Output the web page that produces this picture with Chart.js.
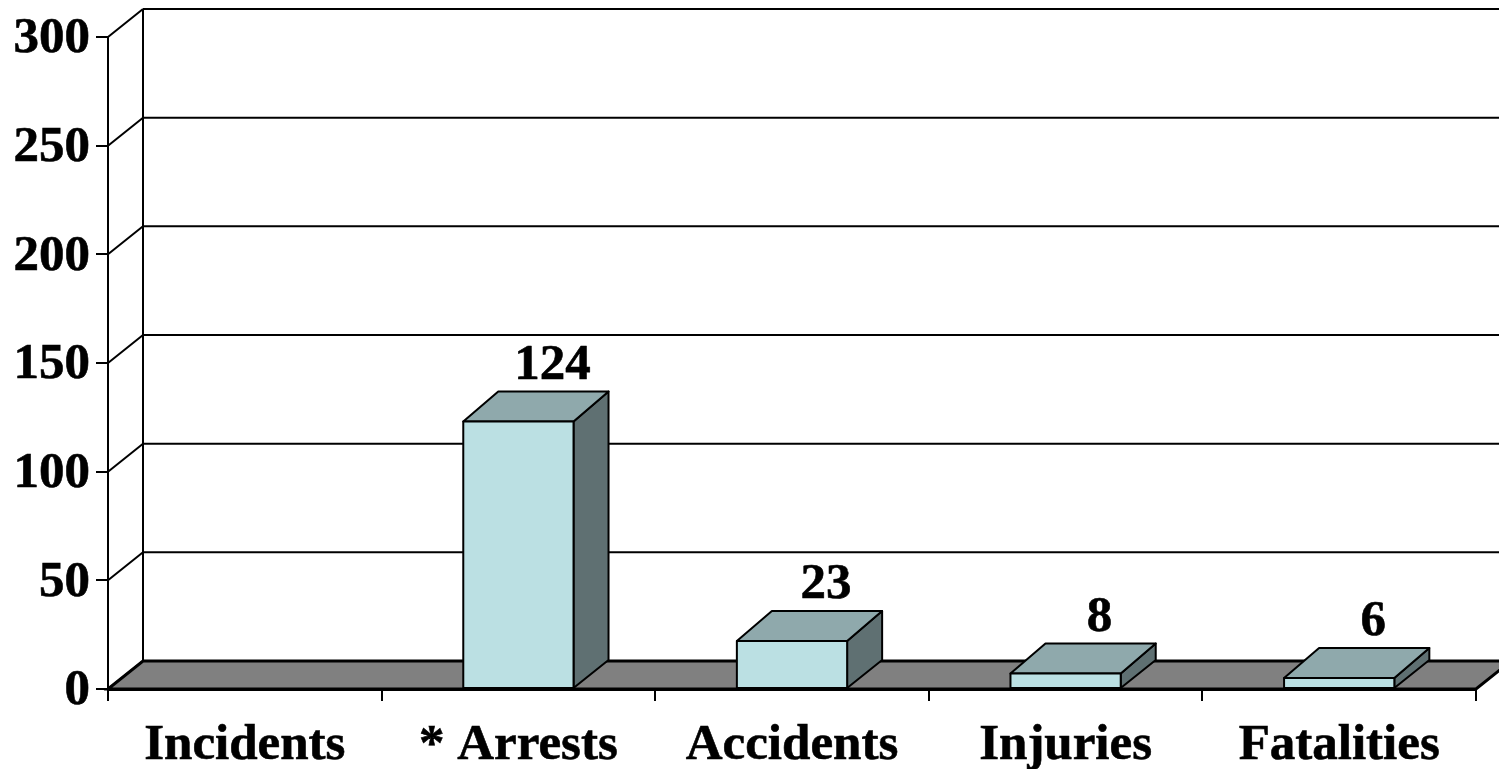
<!DOCTYPE html>
<html>
<head>
<meta charset="utf-8">
<title>Incidents</title>
<script src="https://cdn.jsdelivr.net/npm/chart.js@4.4.1/dist/chart.umd.min.js"></script>
<style>
  html, body { margin: 0; padding: 0; background: #fff; overflow: hidden; }
  canvas { display: block; }
</style>
</head>
<body>
<canvas id="chart" width="1499" height="769"></canvas>
<script>
  const categories = ["Incidents", "* Arrests", "Accidents", "Injuries", "Fatalities"];
  const values = [null, 124, 23, 8, 6];
  const yTicks = [0, 50, 100, 150, 200, 250, 300];

  const FONT = '"Liberation Serif", "Times New Roman", serif';
  const FRONT = "#BBE0E3";
  const TOP = "#8FA9AC";
  const SIDE = "#5F7072";
  const FLOOR = "#808080";
  const DX = 35;   // profundidad 3D en x
  const DY = 28;   // profundidad 3D en y
  const FRONT_DROP = 2; // el frente queda un poco por debajo del valor

  function poly(ctx, pts, fill) {
    ctx.beginPath();
    pts.forEach(function (p, i) {
      if (i === 0) ctx.moveTo(p[0], p[1]);
      else ctx.lineTo(p[0], p[1]);
    });
    ctx.closePath();
    if (fill) { ctx.fillStyle = fill; ctx.fill(); }
    ctx.stroke();
  }

  function line(ctx, x1, y1, x2, y2) {
    ctx.beginPath();
    ctx.moveTo(x1, y1);
    ctx.lineTo(x2, y2);
    ctx.stroke();
  }

  function boldText(ctx, text, x, y) {
    ctx.fillStyle = "#000";
    ctx.strokeStyle = "#000";
    ctx.lineWidth = 0.6;
    ctx.font = "bold 51px " + FONT;
    ctx.fillText(text, x, y);
    ctx.strokeText(text, x, y);
  }

  // Paredes, rejilla, suelo y etiquetas del eje y
  const wallsPlugin = {
    id: "walls",
    beforeDatasetsDraw: function (chart) {
      const ctx = chart.ctx;
      const a = chart.chartArea;
      const yScale = chart.scales.y;
      const y0 = yScale.getPixelForValue(0);
      const yMax = yScale.getPixelForValue(yTicks[yTicks.length - 1]);
      ctx.save();
      ctx.strokeStyle = "#000";
      ctx.lineWidth = 2;
      ctx.lineJoin = "miter";
      yTicks.forEach(function (t) {
        const y = yScale.getPixelForValue(t);
        line(ctx, a.left, y, a.left + DX, y - DY);
        line(ctx, a.left + DX, y - DY, chart.width + 20, y - DY);
      });
      line(ctx, a.left, yMax, a.left, y0);
      line(ctx, a.left + DX, yMax - DY, a.left + DX, y0 - DY);
      ctx.lineWidth = 3;
      poly(ctx, [
        [a.left, y0],
        [a.left + DX, y0 - DY],
        [a.right + DX, y0 - DY],
        [a.right, y0]
      ], FLOOR);

      ctx.textAlign = "right";
      ctx.textBaseline = "middle";
      yTicks.forEach(function (t) {
        boldText(ctx, String(t), 90, yScale.getPixelForValue(t) + 2);
      });
      ctx.restore();
    }
  };

  // Barras 3D: la geometría sale del elemento de cada barra
  const bars3dPlugin = {
    id: "bars3d",
    beforeDatasetDraw: function (chart, args) {
      const ctx = chart.ctx;
      const meta = args.meta;
      ctx.save();
      ctx.lineJoin = "round";
      meta.data.forEach(function (bar, i) {
        if (values[i] === null) return;
        const l = bar.x - bar.width / 2;
        const r = bar.x + bar.width / 2;
        const b = bar.base;
        const t = bar.y + FRONT_DROP;
        const back = bar.y - DY;
        ctx.strokeStyle = "#000";
        ctx.lineWidth = 2;
        poly(ctx, [[r, b], [r + DX, b - DY], [r + DX, back], [r, t]], SIDE);
        poly(ctx, [[l, t], [l + DX, back], [r + DX, back], [r, t]], TOP);
        poly(ctx, [[l, b], [l, t], [r, t], [r, b]], FRONT);

        ctx.textAlign = "center";
        ctx.textBaseline = "alphabetic";
        boldText(ctx, String(values[i]), bar.x + DX - 1, back - 13);
      });
      ctx.restore();
      return false; // ya dibujada arriba
    }
  };

  new Chart(document.getElementById("chart"), {
    type: "bar",
    data: {
      labels: categories,
      datasets: [{
        data: values,
        backgroundColor: FRONT,
        borderColor: "#000",
        borderWidth: 2,
        categoryPercentage: 1,
        barPercentage: 0.403
      }]
    },
    options: {
      responsive: false,
      animation: false,
      layout: { padding: { top: 37, right: 23, left: 0, bottom: 0 } },
      plugins: { legend: { display: false }, tooltip: { enabled: false } },
      scales: {
        x: {
          afterFit: function (scale) { scale.height = 80; },
          grid: {
            drawOnChartArea: false,
            color: "#000",
            lineWidth: 2,
            tickLength: 12
          },
          border: { color: "#000", width: 3 },
          ticks: {
            color: "#000",
            maxRotation: 0,
            padding: 14,
            textStrokeColor: "#000",
            textStrokeWidth: 0.6,
            font: { family: FONT, size: 51, weight: "bold" }
          }
        },
        y: {
          min: 0,
          max: 300,
          afterFit: function (scale) { scale.width = 108; },
          afterBuildTicks: function (scale) {
            scale.ticks = yTicks.map(function (v) { return { value: v }; });
          },
          grid: {
            drawOnChartArea: false,
            color: "#000",
            lineWidth: 2,
            tickLength: 12
          },
          border: { display: false },
          ticks: {
            color: "rgba(0,0,0,0)", // se dibujan en wallsPlugin, algo más abajo
            padding: 6,
            font: { family: FONT, size: 51, weight: "bold" }
          }
        }
      }
    },
    plugins: [wallsPlugin, bars3dPlugin]
  });
</script>
</body>
</html>
